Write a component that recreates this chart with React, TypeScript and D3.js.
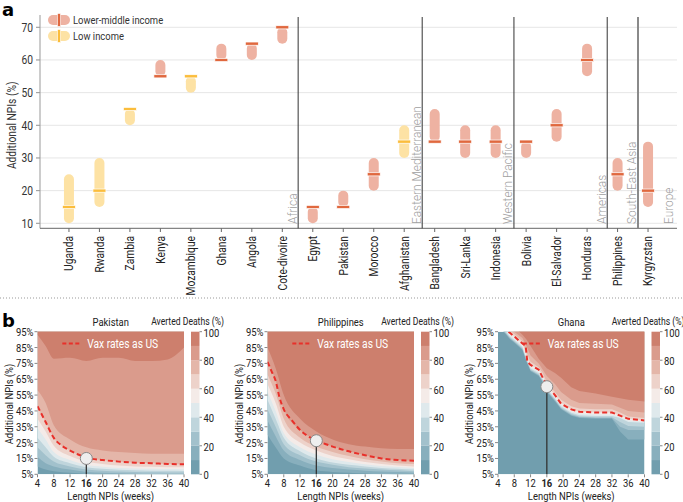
import React from 'react';
import * as d3 from 'd3';

const FONT = "Roboto, 'Noto Sans', sans-serif";
const SX = 0.82; // horizontal squeeze, the original uses a condensed face

// ---- panel a data ----
const countries = ['Uganda', 'Rwanda', 'Zambia', 'Kenya', 'Mozambique', 'Ghana', 'Angola', 'Cote-divoire',
  'Egypt', 'Pakistan', 'Morocco', 'Afghanistan', 'Bangladesh', 'Sri-Lanka', 'Indonesia',
  'Bolivia', 'El-Salvador', 'Honduras', 'Philippines', 'Kyrgyzstan'];
const incomeGroup = ['L', 'L', 'L', 'LM', 'L', 'LM', 'LM', 'LM', 'LM', 'LM', 'LM', 'L', 'LM', 'LM', 'LM', 'LM', 'LM', 'LM', 'LM', 'LM'];
const npiLow = [10, 15, 40, 55, 50, 60, 60, 65, 10, 15, 20, 30, 35, 30, 30, 30, 35, 55, 20, 15];
const npiHigh = [25, 30, 45, 60, 55, 65, 65, 70, 15, 20, 30, 40, 45, 40, 40, 35, 45, 65, 30, 35];
const npiMark = [15, 20, 45, 55, 55, 60, 65, 70, 15, 15, 25, 35, 35, 35, 35, 35, 40, 60, 25, 20];
const regions = ['Africa', 'Eastern Mediterranean', 'Western Pacific', 'Americas', 'South-East Asia', 'Europe'];
const regionLast = ['Cote-divoire', 'Afghanistan', 'Indonesia', 'Honduras', 'Philippines'];
const yTicksA = [10, 20, 30, 40, 50, 60, 70];

// ---- panel b data ----
const weekTicks = [4, 8, 12, 16, 20, 24, 28, 32, 36, 40];
const npiTicks = [5, 15, 25, 35, 45, 55, 65, 75, 85, 95];
const cbTicks = [0, 20, 40, 60, 80, 100];
const levelColors = ['#719eae', '#88afbd', '#a2c1cc', '#bfd5dc', '#dfe9ec', '#f4ebe8', '#edd2ca', '#e4b6a9', '#da9b8c', '#cd7f6d'];

const pakWeeks = [4, 6, 8, 12, 16, 20, 24, 28, 32, 36, 40];
const pakLevels = [
  [10, 8, 7, 6, 5.2, 4, 4, 4, 4, 4, 4],
  [16, 12, 10, 8, 6.5, 6, 5.6, 5.4, 5.2, 5.1, 5],
  [22, 17, 13, 10, 8, 7.3, 6.8, 6.5, 6.3, 6.2, 6.1],
  [28, 22, 16, 12, 9.5, 8.5, 7.8, 7.5, 7.3, 7.2, 7.1],
  [34, 27, 19, 14, 11, 9.8, 9, 8.7, 8.5, 8.3, 8.2],
  [40, 32, 23, 16.5, 13, 11.5, 10.5, 10, 9.8, 9.5, 9.5],
  [47, 38, 28, 20, 15.5, 14, 13, 12.3, 12, 11.5, 11.3],
  [58, 50, 36, 27, 22, 20, 19, 18.5, 18, 18, 18],
  [93, 86, 78, 78.5, 76.5, 78.5, 78.5, 76.5, 76.5, 77.5, 85],
];
const pakVaxWeeks = [4, 6, 8, 10, 12, 14, 16, 20, 24, 28, 32, 36, 40];
const pakVax = [48, 38, 28, 23, 20, 17.5, 15.5, 14, 13, 12.3, 12, 11.5, 11.3];

const phlWeeks = [4, 6, 8, 12, 16, 20, 24, 28, 32, 36, 40];
const phlLevels = [
  [30, 22, 15, 10.5, 7.5, 6.5, 6, 5.5, 5, 4.5, 4],
  [39, 29, 20, 14, 10.5, 9, 8, 7.3, 6.8, 6.4, 6],
  [46, 35, 24, 17, 13, 11, 9.5, 8.7, 8, 7.5, 7],
  [52, 40, 28, 19.5, 15, 12.5, 11, 10, 9, 8.5, 8],
  [57, 45, 31, 22, 17.5, 14.5, 12.8, 11.4, 10.3, 9.6, 9],
  [62, 50, 35, 25, 20, 16.5, 14.5, 12.8, 11.5, 10.6, 10],
  [68, 56, 40, 28, 22.5, 19, 16.5, 14.5, 13, 12, 11.5],
  [76, 64, 46, 33, 26.5, 22.5, 19.5, 17, 15, 14, 13.6],
  [85, 72, 55, 40, 32, 27, 24, 22.5, 21.5, 21, 21],
];
const phlVaxWeeks = [4, 5, 6, 7, 8, 10, 12, 14, 16, 20, 24, 28, 32, 36, 40];
const phlVax = [76, 70, 64, 53, 46, 39, 33, 29, 26.5, 22.5, 19.5, 17, 15, 14, 13.6];

const ghaWeeks = [4, 6, 7, 8, 10, 11, 12, 14, 15, 16, 18, 19.5, 22, 24, 28, 32, 34, 36, 40];
const ghaLevels = [
  [99, 93, 90, 88, 83.5, 76, 70, 67, 63, 57, 51, 46, 42, 40.5, 40, 40, 32, 27, 27],
  [99.5, 93.5, 90.5, 88.5, 84, 76.5, 70.5, 67.5, 63.5, 57.5, 51.5, 46.5, 42.5, 41, 40.5, 40.5, 35, 33, 33],
  [100, 94, 91, 89, 84.5, 77, 71, 68, 64, 58, 52, 47, 43, 41.5, 41, 41, 38, 35.5, 35],
  [100, 94.8, 91.8, 89.8, 85.3, 77.8, 71.8, 68.8, 64.8, 58.8, 52.8, 47.8, 43.8, 42.3, 41.8, 41.8, 40.5, 38, 37.5],
  [100, 95.8, 92.8, 90.8, 86.3, 78.8, 72.8, 69.8, 65.8, 59.8, 53.8, 48.8, 44.8, 43.3, 42.8, 42.8, 41.2, 39, 38.2],
  [100, 97, 94, 92, 87.5, 80, 74, 71, 67, 61, 55, 50, 46, 44.5, 44, 44, 42, 40, 39],
  [100, 98, 95.5, 93.5, 89, 82, 76, 72.5, 69, 63, 57, 52, 48, 46.5, 46, 46, 44, 41.5, 40.5],
  [100, 99, 97, 95, 91, 86, 80, 75, 71, 67, 62, 57, 52, 50, 49.5, 49, 47, 45, 44],
  [100, 100, 100, 98, 93, 90, 86, 78, 75, 72, 69, 66, 60, 57.5, 56, 54, 53, 52, 51],
];
const ghaVaxWeeks = [6.6, 8, 10, 10.8, 11.2, 12, 14, 15, 16, 18, 19.5, 22, 24, 28, 32, 34, 36, 40];
const ghaVax = [95, 92, 87.5, 86, 76, 74, 71, 66, 61, 55, 49.5, 46, 44.5, 44, 44, 42, 40, 39];

const panelsB = [
  { title: 'Pakistan', weeks: pakWeeks, levels: pakLevels, vaxWeeks: pakVaxWeeks, vax: pakVax, markNpi: 15, markWeek: 16, curve: d3.curveMonotoneX },
  { title: 'Philippines', weeks: phlWeeks, levels: phlLevels, vaxWeeks: phlVaxWeeks, vax: phlVax, markNpi: 26.2, markWeek: 16, curve: d3.curveMonotoneX },
  { title: 'Ghana', weeks: ghaWeeks, levels: ghaLevels, vaxWeeks: ghaVaxWeeks, vax: ghaVax, markNpi: 60.3, markWeek: 16, curve: d3.curveLinear },
];

const W = 683;
const H = 502;

// squeezed text, optionally rotated
function T({ x, y, rotate = 0, sx = SX, children, ...rest }: any) {
  const tf = `translate(${x},${y})${rotate ? ` rotate(${rotate})` : ''} scale(${sx},1)`;
  return <text transform={tf} {...rest}>{children}</text>;
}

function PanelA() {
  const x = d3.scalePoint<string>().domain(countries).range([40, 677]).padding(0.95);
  const step = x.step();
  const y = d3.scaleLinear().domain([10, 70]).range([223.3, 27.3]);
  const sepFrac = [0.52, 0.59, 0.6, 0.66, 0.67];
  const sepX = regionLast.map((c, i) => (x(c) as number) + step * sepFrac[i]);
  const barFill: Record<string, string> = { LM: '#eeb2a2', L: '#fde2a4' };
  const markFill: Record<string, string> = { LM: '#e0683e', L: '#fbbd3c' };
  const labelX = [...sepX.map((s) => s - 6), (x('Kyrgyzstan') as number) + 21];

  return (
    <g fontFamily={FONT}>
      <text x={2} y={16} fontSize={18} fontWeight="bold" fontFamily="'DejaVu Sans',sans-serif">a</text>
      {yTicksA.map((t) => (
        <g key={t}>
          <line x1={36} x2={677} y1={y(t)} y2={y(t)} stroke="#e6e6e6" strokeWidth={1} />
          <line x1={36} x2={40} y1={y(t)} y2={y(t)} stroke="#999" />
          <T x={33} y={y(t)} dy="0.35em" textAnchor="end" fontSize={12.5} fill="#333">{t}</T>
        </g>
      ))}
      <line x1={40} x2={40} y1={15} y2={228.3} stroke="#999" />
      <line x1={40} x2={677} y1={228.3} y2={228.3} stroke="#666" />
      <T x={12} y={y(40)} rotate={-90} dy="0.35em" textAnchor="middle" fontSize={12.5} fill="#333">Additional NPIs (%)</T>

      {sepX.map((s, i) => (
        <line key={i} x1={s} x2={s} y1={17} y2={228.3} stroke={i === 4 ? '#8a8a8a' : '#333'} strokeWidth={i === 4 ? 2 : 1} />
      ))}
      {regions.map((r, i) => (
        <T key={r} x={labelX[i]} y={224} rotate={-90} sx={0.95} dy="0.35em" fontSize={12.5} fontWeight={300} fill="#a0a0a0">{r}</T>
      ))}

      {countries.map((c, i) => {
        const cx = x(c) as number;
        return (
          <g key={c}>
            <line x1={cx} x2={cx} y1={228.3} y2={232} stroke="#666" />
            <T x={cx} y={236} rotate={-90} textAnchor="end" dy="0.35em" fontSize={12.5} fill="#222">{c}</T>
            <rect x={cx - 5} width={10} y={y(npiHigh[i])} height={y(npiLow[i]) - y(npiHigh[i])} rx={5} fill={barFill[incomeGroup[i]]} />
            <rect x={cx - 6.5} width={13} y={y(npiMark[i]) - 1.6} height={3.2} fill={markFill[incomeGroup[i]]} stroke="#fff" strokeWidth={0.7} />
          </g>
        );
      })}

      {[{ k: 'LM', label: 'Lower-middle income', cy: 20 }, { k: 'L', label: 'Low income', cy: 36 }].map((d) => (
        <g key={d.k}>
          <rect x={48} y={d.cy - 5} width={22} height={10} rx={5} fill={barFill[d.k]} />
          <rect x={57.5} y={d.cy - 6.5} width={3} height={13} fill={markFill[d.k]} stroke="#fff" strokeWidth={0.6} />
          <T x={73} y={d.cy} dy="0.35em" fontSize={11.5} fill="#333">{d.label}</T>
        </g>
      ))}
    </g>
  );
}

function PanelB({ p, left, idx }: { p: any; left: number; idx: number }) {
  const top = 331.7;
  const bot = 474.3;
  const right = left + 146.5;
  const x = d3.scaleLinear().domain([4, 40]).range([left, right]);
  const y = d3.scaleLinear().domain([5, 95]).range([bot, top]);
  const cb = d3.scaleLinear().domain([0, 100]).range([bot, top]);
  const cbX = left + 153.5;
  const clipId = `clip-b-${idx}`;

  const area = d3.area<number>()
    .x((_, i) => x(p.weeks[i]))
    .y0(() => y(120))
    .y1((d) => y(d))
    .curve(p.curve);
  const vaxLine = d3.line<number>()
    .x((_, i) => x(p.vaxWeeks[i]))
    .y((d) => y(d))
    .curve(p.curve);

  return (
    <g fontFamily={FONT}>
      <defs>
        <clipPath id={clipId}>
          <rect x={left} y={top} width={right - left} height={bot - top} />
        </clipPath>
      </defs>
      <g clipPath={`url(#${clipId})`}>
        <rect x={left} y={top} width={right - left} height={bot - top} fill={levelColors[0]} />
        {p.levels.map((lv: number[], i: number) => (
          <path key={i} d={area(lv) as string} fill={levelColors[i + 1]} />
        ))}
        <path d={vaxLine(p.vax) as string} fill="none" stroke="#e8302a" strokeWidth={2} strokeDasharray="5,3" />
      </g>

      <line x1={x(p.markWeek)} x2={x(p.markWeek)} y1={y(p.markNpi)} y2={bot} stroke="#333" strokeWidth={1.3} />
      <circle cx={x(p.markWeek)} cy={y(p.markNpi)} r={6} fill="#eeeeee" stroke="#8a8a8a" strokeWidth={1} />

      {npiTicks.map((t) => (
        <g key={t}>
          <line x1={left - 3} x2={left} y1={y(t)} y2={y(t)} stroke="#888" />
          <T x={left - 4} y={y(t)} dy="0.35em" textAnchor="end" fontSize={11.5} fill="#222">{`${t}%`}</T>
        </g>
      ))}
      {weekTicks.map((t) => (
        <g key={t}>
          <line x1={x(t)} x2={x(t)} y1={bot} y2={bot + 3} stroke="#888" />
          <T x={x(t)} y={bot + 9} dy="0.35em" textAnchor="middle" fontSize={11.5} fontWeight={t === p.markWeek ? 'bold' : 'normal'} fill="#222">{t}</T>
        </g>
      ))}
      <T x={(left + right) / 2} y={496} dy="0.35em" textAnchor="middle" fontSize={11.5} fill="#222">Length NPIs (weeks)</T>
      <T x={left - 29} y={404} rotate={-90} dy="0.35em" textAnchor="middle" fontSize={11.5} fill="#222">Additional NPIs (%)</T>
      <T x={(left + right) / 2} y={322} dy="0.35em" textAnchor="middle" fontSize={11.5} fill="#222">{p.title}</T>

      <line x1={x(10.1)} x2={x(14.3)} y1={343.5} y2={343.5} stroke="#e8302a" strokeWidth={2} strokeDasharray="4,2.5" />
      <T x={x(16.2)} y={343.5} dy="0.35em" fontSize={12.5} fill="#fff">Vax rates as US</T>

      <T x={cbX + 33} y={321} dy="0.35em" textAnchor="end" fontSize={10.5} fill="#222">Averted Deaths (%)</T>
      {levelColors.map((c, i) => (
        <rect key={c} x={cbX} width={8.5} y={cb((i + 1) * 10)} height={cb(i * 10) - cb((i + 1) * 10)} fill={c} />
      ))}
      {cbTicks.map((t) => (
        <g key={t}>
          <line x1={cbX + 8.5} x2={cbX + 11} y1={cb(t)} y2={cb(t)} stroke="#888" />
          <T x={cbX + 12.5} y={cb(t) + 1} dy="0.35em" fontSize={11.5} fill="#222">{t}</T>
        </g>
      ))}
    </g>
  );
}

export default function App() {
  const lefts = [37.5, 267.5, 498];
  return (
    <svg width={W} height={H} style={{ display: 'block', position: 'absolute', left: 0, top: 0, background: '#fff' }}>
      <PanelA />
      <line x1={0} x2={W} y1={298} y2={298} stroke="#999" strokeDasharray="1,2" />
      <text x={2} y={327} fontSize={18} fontWeight="bold" fontFamily="'DejaVu Sans',sans-serif">b</text>
      {panelsB.map((p, i) => (
        <PanelB key={p.title} p={p} left={lefts[i]} idx={i} />
      ))}
    </svg>
  );
}
